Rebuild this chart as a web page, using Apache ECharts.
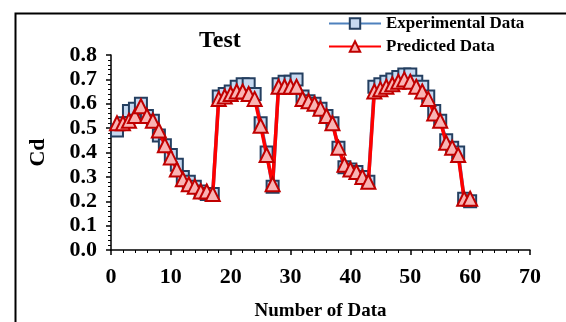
<!DOCTYPE html>
<html>
<head>
<meta charset="utf-8">
<script src="https://cdn.jsdelivr.net/npm/echarts@6/dist/echarts.min.js"></script>
<style>
  html, body { margin: 0; padding: 0; background: #fff; }
  #chart { width: 566px; height: 322px; }
</style>
</head>
<body>
<div id="chart"></div>
<script>
// sample index 1..60
const indices = Array.from({ length: 60 }, (_, i) => i + 1)

const experimental = [
  0.49, 0.52, 0.57, 0.58, 0.60, 0.55, 0.53, 0.47, 0.43, 0.39,
  0.35, 0.30, 0.28, 0.26, 0.24, 0.23, 0.23, 0.63, 0.64, 0.65,
  0.67, 0.68, 0.68, 0.64, 0.52, 0.40, 0.26, 0.68, 0.69, 0.69,
  0.70, 0.63, 0.61, 0.60, 0.58, 0.55, 0.52, 0.42, 0.34, 0.33,
  0.32, 0.30, 0.28, 0.67, 0.68, 0.69, 0.70, 0.71, 0.72, 0.72,
  0.69, 0.67, 0.63, 0.57, 0.53, 0.45, 0.42, 0.40, 0.21, 0.20
]

const predicted = [
  0.52, 0.52, 0.53, 0.55, 0.59, 0.55, 0.53, 0.49, 0.43, 0.38,
  0.33, 0.29, 0.27, 0.26, 0.24, 0.24, 0.23, 0.62, 0.63, 0.64,
  0.65, 0.65, 0.64, 0.62, 0.51, 0.39, 0.27, 0.67, 0.67, 0.67,
  0.67, 0.62, 0.61, 0.60, 0.58, 0.55, 0.52, 0.42, 0.35, 0.33,
  0.32, 0.30, 0.28, 0.65, 0.66, 0.67, 0.68, 0.69, 0.70, 0.69,
  0.67, 0.65, 0.62, 0.56, 0.53, 0.44, 0.42, 0.39, 0.21, 0.21
]

const serif = '"Liberation Serif", "DejaVu Serif", serif'

const chart = echarts.init(document.getElementById('chart'))

chart.setOption({
  animation: false,
  backgroundColor: '#fff',
  title: {
    text: 'Test',
    left: 194,
    top: 24,
    textStyle: { fontFamily: serif, fontWeight: 'bold', fontSize: 24, color: '#000' }
  },
  legend: {
    orient: 'vertical',
    left: 323,
    top: 10,
    itemGap: 6,
    itemWidth: 52,
    itemHeight: 13,
    textStyle: { fontFamily: serif, fontWeight: 'bold', fontSize: 17, color: '#000' },
    data: ['Experimental Data', 'Predicted Data']
  },
  graphic: [{
    type: 'rect',
    left: 13,
    top: 11,
    shape: { width: 600, height: 400 },
    style: { fill: 'none', stroke: '#000', lineWidth: 2 },
    silent: true
  }],
  grid: { left: 111, right: 36, top: 55, bottom: 72, outerBoundsMode: 'none', containLabel: false },
  xAxis: {
    type: 'value',
    min: 0,
    max: 70,
    interval: 10,
    name: 'Number of Data',
    nameLocation: 'middle',
    nameGap: 52,
    nameTextStyle: { fontFamily: serif, fontWeight: 'bold', fontSize: 19, color: '#000' },
    axisLine: { lineStyle: { color: '#000', width: 1.5 } },
    axisTick: { length: 5, lineStyle: { color: '#000', width: 1.5 } },
    minorTick: { show: true, splitNumber: 5, length: 3, lineStyle: { color: '#000', width: 1 } },
    axisLabel: { fontFamily: serif, fontWeight: 'bold', fontSize: 22, color: '#000', margin: 16 },
    splitLine: { show: false }
  },
  yAxis: {
    type: 'value',
    min: 0,
    max: 0.8,
    interval: 0.1,
    name: 'Cd',
    nameLocation: 'middle',
    nameGap: 62,
    nameTextStyle: { fontFamily: serif, fontWeight: 'bold', fontSize: 22, color: '#000' },
    axisLine: { show: true, lineStyle: { color: '#000', width: 1.5 } },
    axisTick: { show: true, length: 5, lineStyle: { color: '#000', width: 1.5 } },
    minorTick: { show: true, splitNumber: 5, length: 3, lineStyle: { color: '#000', width: 1 } },
    axisLabel: {
      fontFamily: serif, fontWeight: 'bold', fontSize: 22, color: '#000', margin: 14,
      formatter: v => v.toFixed(1)
    },
    splitLine: { show: false }
  },
  series: [
    {
      name: 'Experimental Data',
      type: 'line',
      data: indices.map((x, i) => [x, experimental[i]]),
      symbol: 'rect',
      symbolSize: 12,
      lineStyle: { color: '#4f81bd', width: 3.5 },
      itemStyle: { color: '#c6d9f1', borderColor: '#243f60', borderWidth: 2 },
      z: 2
    },
    {
      name: 'Predicted Data',
      type: 'line',
      data: indices.map((x, i) => [x, predicted[i]]),
      symbol: 'triangle',
      symbolSize: 14,
      lineStyle: { color: '#ff0000', width: 3.5 },
      itemStyle: { color: '#f9b4b4', borderColor: '#c00000', borderWidth: 2 },
      z: 3
    }
  ]
})
</script>
</body>
</html>
